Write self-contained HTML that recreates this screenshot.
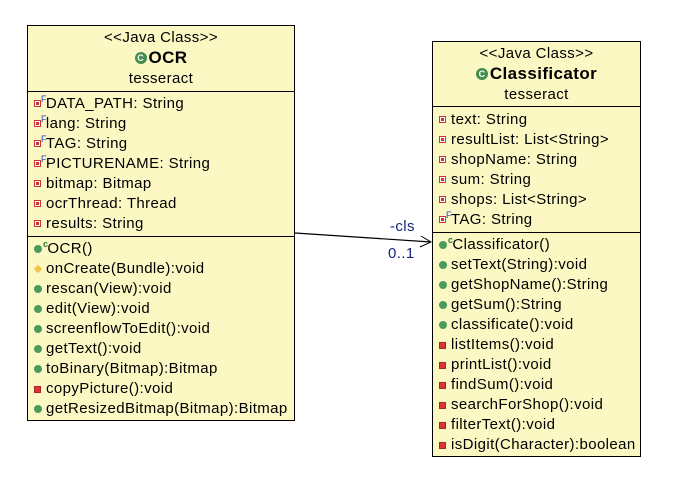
<!DOCTYPE html>
<html><head><style>
body{margin:0;width:681px;height:495px;background:#fff;position:relative;font-family:"Liberation Sans",sans-serif;font-size:15px;letter-spacing:0.4px;color:#000;overflow:hidden}
.box{position:absolute;background:#fcf8c4;border:1px solid #000;box-sizing:border-box}
.hl{position:absolute;left:0;right:0;border-top:1px solid #000}
.t{position:absolute;white-space:nowrap;line-height:20px}
.c{left:0;right:0;text-align:center;font-size:15px}
.r{position:absolute;line-height:20px;height:20px;white-space:nowrap;left:6px}
.pf{display:inline-block;width:5px;height:5px;background:#fff;border:1px solid #c33;box-sizing:content-box;margin-right:5px;position:relative;top:-1px}
.pf::after{content:"";position:absolute;left:1px;top:1px;width:3px;height:3px;background:#c33}
.pm{display:inline-block;width:7px;height:7px;background:#d33;border:1px solid #a22;margin-right:5px;box-sizing:border-box}
.gm{display:inline-block;width:8px;height:8px;border-radius:50%;background:#4a9a5a;margin-right:4px}
.ym{display:inline-block;width:6px;height:6px;background:#f3c64b;transform:rotate(45deg);margin:0 5px 0 1px;position:relative;top:-1px}
.F{position:relative;top:-6px;font-size:9px;line-height:0;color:#2244cc;margin-left:-5px;margin-right:-1px}
.C{position:relative;top:-6px;font-size:9px;line-height:0;color:#2a7a2a;font-weight:bold;margin-left:-3px;margin-right:-1px}
.ci{display:inline-block;width:12px;height:12px;border-radius:50%;background:#3f8f4f;color:#fff;font-size:9px;line-height:12px;text-align:center;margin-right:2px;font-weight:bold;letter-spacing:0;position:relative;top:-2px}
</style></head><body>

<div class="box" style="left:27px;top:25px;width:268px;height:396px">
 <div class="t c" style="top:2px">&lt;&lt;Java Class&gt;&gt;</div>
 <div class="t c" style="top:22px;font-size:17px;font-weight:bold"><span class="ci">C</span>OCR</div>
 <div class="t c" style="top:43px">tesseract</div>
 <div class="hl" style="top:65px"></div>
 <div class="r" style="top:68px"><span class="pf"></span><span class="F">F</span>DATA_PATH: String</div>
 <div class="r" style="top:88px"><span class="pf"></span><span class="F">F</span>lang: String</div>
 <div class="r" style="top:108px"><span class="pf"></span><span class="F">F</span>TAG: String</div>
 <div class="r" style="top:128px"><span class="pf"></span><span class="F">F</span>PICTURENAME: String</div>
 <div class="r" style="top:148px"><span class="pf"></span>bitmap: Bitmap</div>
 <div class="r" style="top:168px"><span class="pf"></span>ocrThread: Thread</div>
 <div class="r" style="top:188px"><span class="pf"></span>results: String</div>
 <div class="hl" style="top:210px"></div>
 <div class="r" style="top:213px"><span class="gm"></span><span class="C">c</span>OCR()</div>
 <div class="r" style="top:233px"><span class="ym"></span>onCreate(Bundle):void</div>
 <div class="r" style="top:253px"><span class="gm"></span>rescan(View):void</div>
 <div class="r" style="top:273px"><span class="gm"></span>edit(View):void</div>
 <div class="r" style="top:293px"><span class="gm"></span>screenflowToEdit():void</div>
 <div class="r" style="top:313px"><span class="gm"></span>getText():void</div>
 <div class="r" style="top:333px"><span class="gm"></span>toBinary(Bitmap):Bitmap</div>
 <div class="r" style="top:353px"><span class="pm"></span>copyPicture():void</div>
 <div class="r" style="top:373px"><span class="gm"></span>getResizedBitmap(Bitmap):Bitmap</div>
</div>

<div class="box" style="left:432px;top:41px;width:209px;height:416px">
 <div class="t c" style="top:2px">&lt;&lt;Java Class&gt;&gt;</div>
 <div class="t c" style="top:22px;font-size:17px;font-weight:bold"><span class="ci">C</span>Classificator</div>
 <div class="t c" style="top:43px">tesseract</div>
 <div class="hl" style="top:64px"></div>
 <div class="r" style="top:68px"><span class="pf"></span>text: String</div>
 <div class="r" style="top:88px"><span class="pf"></span>resultList: List&lt;String&gt;</div>
 <div class="r" style="top:108px"><span class="pf"></span>shopName: String</div>
 <div class="r" style="top:128px"><span class="pf"></span>sum: String</div>
 <div class="r" style="top:148px"><span class="pf"></span>shops: List&lt;String&gt;</div>
 <div class="r" style="top:168px"><span class="pf"></span><span class="F">F</span>TAG: String</div>
 <div class="hl" style="top:190px"></div>
 <div class="r" style="top:193px"><span class="gm"></span><span class="C">c</span>Classificator()</div>
 <div class="r" style="top:213px"><span class="gm"></span>setText(String):void</div>
 <div class="r" style="top:233px"><span class="gm"></span>getShopName():String</div>
 <div class="r" style="top:253px"><span class="gm"></span>getSum():String</div>
 <div class="r" style="top:273px"><span class="gm"></span>classificate():void</div>
 <div class="r" style="top:293px"><span class="pm"></span>listItems():void</div>
 <div class="r" style="top:313px"><span class="pm"></span>printList():void</div>
 <div class="r" style="top:333px"><span class="pm"></span>findSum():void</div>
 <div class="r" style="top:353px"><span class="pm"></span>searchForShop():void</div>
 <div class="r" style="top:373px"><span class="pm"></span>filterText():void</div>
 <div class="r" style="top:393px"><span class="pm"></span>isDigit(Character):boolean</div>
</div>

<svg style="position:absolute;left:0;top:0" width="681" height="495">
 <line x1="295" y1="233" x2="431" y2="242" stroke="#000" stroke-width="1.2"/>
 <polyline points="421,236 431,242 420,247" fill="none" stroke="#000" stroke-width="1"/>
</svg>
<div class="t" style="left:390px;top:217px;color:#1a237e">-cls</div>
<div class="t" style="left:388px;top:244px;color:#1a237e">0..1</div>
</body></html>
